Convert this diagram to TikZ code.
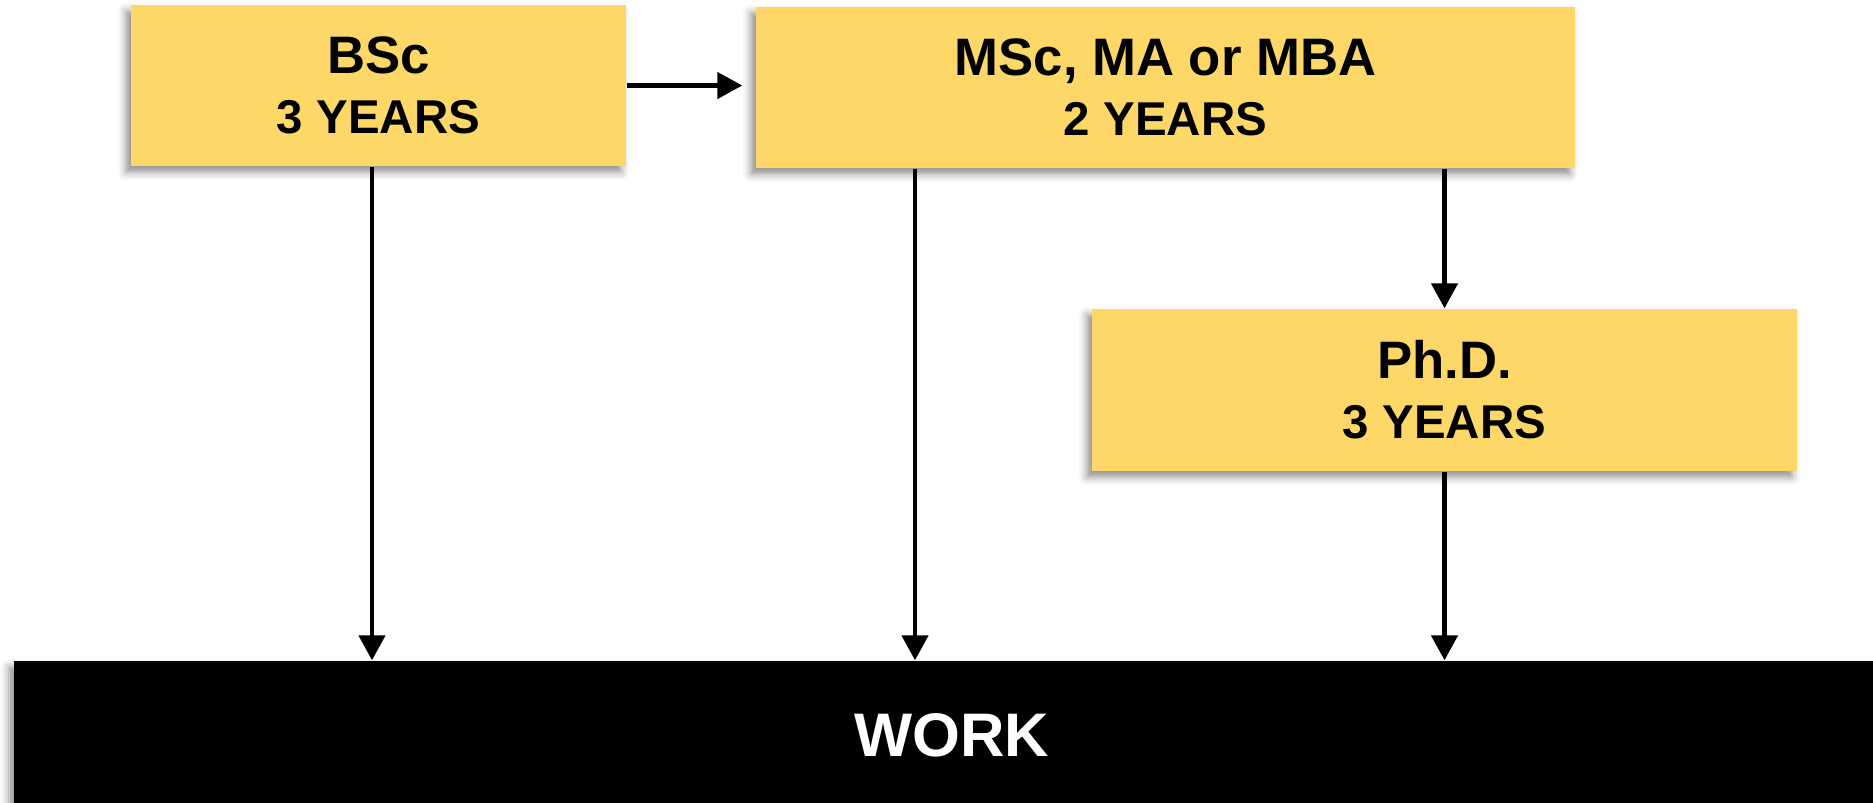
\documentclass[tikz,border=0pt]{standalone}
\usepackage{fontspec}
\setmainfont{Liberation Sans}
\usetikzlibrary{arrows.meta,shadows.blur}
\definecolor{giallo}{RGB}{253,215,103}

\begin{document}
\begin{tikzpicture}
\tikzstyle{freccia} = [-{Triangle[length=0.25cm,width=0.26cm]}, line width=1.3pt]
\tikzstyle{scatola} = [rectangle, fill=giallo, align=center, inner sep=0pt,
  font=\bfseries\fontsize{13.5}{17}\selectfont,
  blur shadow={shadow xshift=-0.05cm, shadow yshift=-0.06cm, shadow blur radius=0.08cm, shadow opacity=45}]
\useasboundingbox (0,0) rectangle (18.73,-8.02);
\node[scatola, minimum width=4.95cm, minimum height=1.61cm] (bsc) at (3.785,-0.855) {{\fontsize{15}{17}\selectfont BSc}\\3 YEARS};
\node[scatola, minimum width=8.19cm, minimum height=1.61cm] (msc) at (11.655,-0.875) {{\fontsize{15}{17}\selectfont MSc, MA or MBA}\\2 YEARS};
\node[scatola, minimum width=7.05cm, minimum height=1.62cm] (phd) at (14.445,-3.90) {{\fontsize{15}{17}\selectfont Ph.D.}\\3 YEARS};
\node[scatola, fill=black, text=white, font=\bfseries\fontsize{17.5}{20}\selectfont, minimum width=18.76cm, minimum height=1.48cm] (work) at (9.52,-7.35) {WORK};
\draw[freccia] (bsc.east) -- ([xshift=-0.13cm]msc.west |- bsc.east);
\draw[freccia] ([xshift=-0.065cm]bsc.south) -- ([xshift=-0.065cm]bsc.south |- work.north);
\draw[freccia] ([xshift=-2.505cm]msc.south) -- ([xshift=-2.505cm]msc.south |- work.north);
\draw[freccia] (phd.north |- msc.south) -- (phd.north);
\draw[freccia] (phd.south) -- (phd.south |- work.north);
\end{tikzpicture}
\end{document}
